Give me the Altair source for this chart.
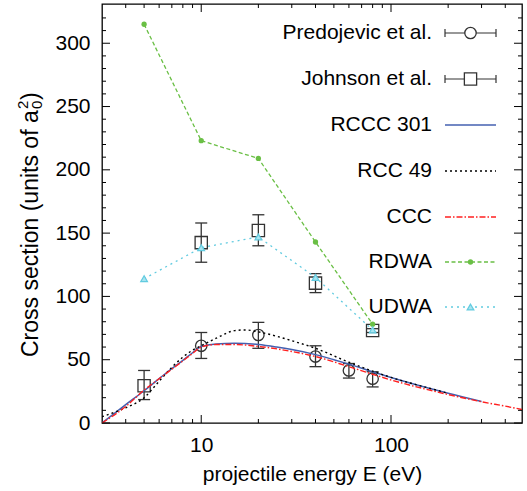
import altair as alt
import pandas as pd

# ---------------- data ----------------
pred_E = [10, 20, 40, 60, 80]
pred_Q = [61.0, 69.5, 52.5, 41.5, 35.0]
pred_lo = [51.0, 59.0, 44.5, 35.5, 28.5]
pred_hi = [71.5, 79.5, 61.0, 47.0, 40.5]

john_E = [5, 10, 20, 40, 80]
john_Q = [29.5, 142.5, 152.0, 110.5, 73.0]
john_lo = [18.5, 127.0, 140.0, 103.0, 71.5]
john_hi = [41.5, 158.0, 164.5, 118.0, 74.5]

rccc_E = [3, 4, 5, 6, 7, 8, 9, 10, 12, 15, 20, 25, 30, 40, 50, 60, 80, 100, 150, 200, 300]
rccc_Q = [0, 14.5, 25.5, 35, 43, 49.5, 55.5, 60.5, 62.5, 63, 62, 60, 58, 54, 50, 46.5, 40.5, 36, 28.5, 23.5, 17]

rcc_E = [3, 3.5, 4, 5, 6, 7, 8, 9, 10, 12, 15, 17, 20, 25, 30, 40, 60, 80, 100, 150, 200]
rcc_Q = [5, 8.5, 12, 20, 33, 44, 52, 57.5, 61, 67, 73, 73.5, 72, 68.5, 65, 59, 48, 41, 36, 28.5, 23.5]

ccc_E = [3, 4, 5, 6, 7, 8, 9, 10, 12, 15, 20, 30, 40, 60, 80, 100, 150, 200, 300, 400, 490]
ccc_Q = [0, 13, 26, 35, 42.5, 49, 55, 60, 62, 62, 60.5, 56.5, 52.5, 44.5, 38.5, 34, 27, 22.5, 16.8, 13.3, 10.7]

rdwa_E = [5, 10, 20, 40, 80]
rdwa_Q = [315, 223, 209, 143, 78]

udwa_E = [5, 10, 20, 40, 80]
udwa_Q = [114, 138.5, 147, 115, 73.5]

x_labels = [10, 100]
x_minor = [4, 5, 6, 7, 8, 9, 20, 30, 40, 50, 60, 70, 80, 90, 200, 300, 400]
y_labels = [0, 50, 100, 150, 200, 250, 300]
y_minor = [10, 20, 30, 40, 60, 70, 80, 90, 110, 120, 130, 140, 160, 170, 180, 190,
           210, 220, 230, 240, 260, 270, 280, 290, 310, 320]

legend_names = ["Predojevic et al.", "Johnson et al.", "RCCC 301", "RCC 49", "CCC", "RDWA", "UDWA"]

# ---------------- style ----------------
W, H = 420, 419
FONT = "Liberation Sans"
C_EXP = "#333333"
C_BLUE = "#4460b0"
C_RED = "#ff2020"
C_GREEN = "#6abf45"
C_CYAN = "#62cbe0"
C_CYAN_FILL = "#a8e4f0"

xs = alt.Scale(type="log", domain=[3, 490], nice=False)
ys = alt.Scale(domain=[0, 331], nice=False, zero=False)
x_axis = alt.Axis(values=x_labels, format="d", title="projectile energy E (eV)",
                  labelPadding=11, titlePadding=8)
y_axis = alt.Axis(values=y_labels, title=None, labelPadding=12)


def X(field):
    return alt.X(f"{field}:Q", scale=xs, axis=x_axis)


def Y(field):
    return alt.Y(f"{field}:Q", scale=ys, axis=y_axis)


layers = []

# ---------------- experimental data ----------------
pred = pd.DataFrame({"E": pred_E, "Q": pred_Q, "lo": pred_lo, "hi": pred_hi})
john = pd.DataFrame({"E": john_E, "Q": john_Q, "lo": john_lo, "hi": john_hi})

for df, shape, size in [(pred, "circle", 130), (john, "square", 150)]:
    base = alt.Chart(df)
    layers.append(base.mark_rule(color=C_EXP, strokeWidth=1.3).encode(
        x=X("E"), y=Y("lo"), y2="hi:Q"))
    layers.append(base.mark_tick(orient="horizontal", size=12, thickness=1.3, color=C_EXP,
                                 opacity=1).encode(x=X("E"), y=Y("lo")))
    layers.append(base.mark_tick(orient="horizontal", size=12, thickness=1.3, color=C_EXP,
                                 opacity=1).encode(x=X("E"), y=Y("hi")))
    layers.append(base.mark_point(shape=shape, size=size, filled=False, stroke=C_EXP,
                                  strokeWidth=1.3, opacity=1).encode(x=X("E"), y=Y("Q")))

# ---------------- theory curves ----------------
def curve(E, Q, color, dash=None, width=1.4):
    kw = dict(color=color, strokeWidth=width, interpolate="monotone", clip=True)
    if dash:
        kw["strokeDash"] = dash
    return alt.Chart(pd.DataFrame({"E": E, "Q": Q})).mark_line(**kw).encode(
        x=X("E"), y=Y("Q"))


DASH_RCC = [2, 3]
DASH_CCC = [6, 2, 1.5, 2]
DASH_RDWA = [4, 2.5]
DASH_UDWA = [2, 4]

layers.append(curve(rccc_E, rccc_Q, C_BLUE, width=1.5))
layers.append(curve(rcc_E, rcc_Q, "black", DASH_RCC))
layers.append(curve(ccc_E, ccc_Q, C_RED, DASH_CCC))

rdwa = pd.DataFrame({"E": rdwa_E, "Q": rdwa_Q})
layers.append(alt.Chart(rdwa).mark_line(color=C_GREEN, strokeWidth=1.3,
                                        strokeDash=DASH_RDWA).encode(x=X("E"), y=Y("Q")))
layers.append(alt.Chart(rdwa).mark_point(shape="circle", size=28, filled=True, color=C_GREEN,
                                         opacity=1).encode(x=X("E"), y=Y("Q")))

udwa = pd.DataFrame({"E": udwa_E, "Q": udwa_Q})
layers.append(alt.Chart(udwa).mark_line(color=C_CYAN, strokeWidth=1.3,
                                        strokeDash=DASH_UDWA).encode(x=X("E"), y=Y("Q")))
layers.append(alt.Chart(udwa).mark_point(shape="triangle-up", size=45, filled=True,
                                         fill=C_CYAN_FILL, stroke=C_CYAN, strokeWidth=1.2,
                                         opacity=1).encode(x=X("E"), y=Y("Q")))

# ---------------- inward ticks on all four sides ----------------
def xticks(vals, length):
    base = alt.Chart(pd.DataFrame({"E": vals})).mark_rule(color="black", strokeWidth=1)
    return [base.encode(x=X("E"), y=alt.value(H), y2=alt.value(H - length)),
            base.encode(x=X("E"), y=alt.value(0), y2=alt.value(length))]


def yticks(vals, length):
    base = alt.Chart(pd.DataFrame({"Q": vals})).mark_rule(color="black", strokeWidth=1)
    return [base.encode(y=Y("Q"), x=alt.value(0), x2=alt.value(length)),
            base.encode(y=Y("Q"), x=alt.value(W), x2=alt.value(W - length))]


layers += xticks(x_labels, 8) + xticks(x_minor, 4) + yticks(y_labels, 8) + yticks(y_minor, 4)

# ---------------- legend (inside, top right) ----------------
one = pd.DataFrame({"k": [0]})
LX0, LX1, LXM, LTX = 343, 394, 368.5, 330
rows = [29, 75, 121, 167, 213, 258, 303]

for name, yp in zip(legend_names, rows):
    layers.append(alt.Chart(pd.DataFrame({"t": [name]})).mark_text(
        align="right", baseline="middle", font=FONT, fontSize=21, color="black").encode(
        x=alt.value(LTX), y=alt.value(yp), text="t:N"))


def leg_line(yp, color, dash=None, width=1.4):
    kw = dict(color=color, strokeWidth=width)
    if dash:
        kw["strokeDash"] = dash
    return alt.Chart(one).mark_rule(**kw).encode(
        x=alt.value(LX0), x2=alt.value(LX1), y=alt.value(yp))


def leg_point(yp, **kw):
    return alt.Chart(one).mark_point(opacity=1, **kw).encode(
        x=alt.value(LXM), y=alt.value(yp))


for yp, shape, size in [(rows[0], "circle", 130), (rows[1], "square", 150)]:
    layers.append(leg_line(yp, C_EXP, width=1.2))
    for xx in (LX0, LX1):
        layers.append(alt.Chart(one).mark_rule(color=C_EXP, strokeWidth=1.2).encode(
            x=alt.value(xx), y=alt.value(yp - 4), y2=alt.value(yp + 4)))
    layers.append(leg_point(yp, shape=shape, size=size, filled=True, fill="white",
                            stroke=C_EXP, strokeWidth=1.3))

layers.append(leg_line(rows[2], C_BLUE, width=1.5))
layers.append(leg_line(rows[3], "black", DASH_RCC))
layers.append(leg_line(rows[4], C_RED, DASH_CCC))
layers.append(leg_line(rows[5], C_GREEN, DASH_RDWA, 1.3))
layers.append(leg_point(rows[5], shape="circle", size=28, filled=True, color=C_GREEN))
layers.append(leg_line(rows[6], C_CYAN, DASH_UDWA, 1.3))
layers.append(leg_point(rows[6], shape="triangle-up", size=45, filled=True, fill=C_CYAN_FILL,
                        stroke=C_CYAN, strokeWidth=1.2))

# ---------------- y-axis title with stacked sub/superscript ----------------
TX, TY = -71, 353
TFS = 23


def ttext(s, x, y, fs):
    return alt.Chart(pd.DataFrame({"t": [s]})).mark_text(
        angle=270, align="left", baseline="middle", font=FONT, fontSize=fs,
        color="black").encode(x=alt.value(x), y=alt.value(y), text="t:N")


main_len = 247
layers.append(ttext("Cross section (units of a", TX, TY, TFS))
layers.append(ttext("2", TX - 8, TY - main_len - 1, 15))
layers.append(ttext("0", TX + 6, TY - main_len - 1, 15))
layers.append(ttext(")", TX, TY - main_len - 10, TFS))

chart = alt.layer(*layers).properties(
    width=W, height=H,
    autosize=alt.AutoSizeParams(type="none"),
    padding={"left": 102, "top": 4, "right": 5, "bottom": 68},
).configure_view(
    stroke="black", strokeWidth=1.3
).configure_axis(
    grid=False, domain=False, ticks=False,
    labelFont=FONT, labelFontSize=21, labelColor="black",
    titleFont=FONT, titleFontSize=21, titleFontWeight="normal", titleColor="black",
)

chart.save("out.html", embed_options={"renderer": "svg", "actions": False})
